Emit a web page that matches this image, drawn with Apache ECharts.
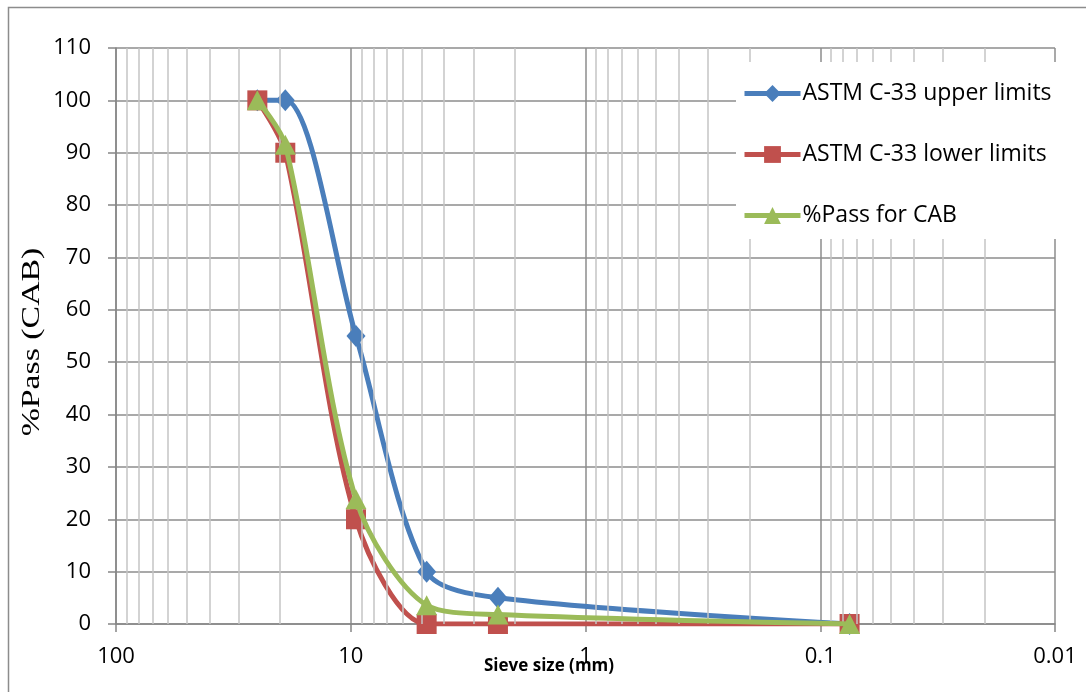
<!DOCTYPE html>
<html>
<head>
<meta charset="utf-8">
<script src="https://cdn.jsdelivr.net/npm/echarts@6/dist/echarts.min.js"></script>
<style>
html,body{margin:0;padding:0;background:#fff;}
#c{width:1086px;height:692px;}
</style>
</head>
<body>
<div id="c"></div>
<script>
// Sieve sizes (mm)
var sieveSizes = [25, 19, 9.5, 4.75, 2.36, 0.075];
var upperLimits = [100, 100, 55, 10, 5, 0];
var lowerLimits = [100, 90, 20, 0, 0, 0];
var passCAB = [100, 91.5, 23.8, 3.6, 1.8, 0];
var seriesNames = ['ASTM C-33 upper limits', 'ASTM C-33 lower limits', '%Pass for CAB'];
var yTicks = [0, 10, 20, 30, 40, 50, 60, 70, 80, 90, 100, 110];
var yTitle = '%Pass (CAB)';
var xTitle = 'Sieve size (mm)';
var minorGridValues = [];
[0.01, 0.1, 1, 10].forEach(function (d) {
  for (var k = 2; k <= 9; k++) minorGridValues.push(+(d * k).toPrecision(3));
});

function pairs(vals) {
  return sieveSizes.map(function (x, i) { return [x, vals[i]]; });
}

var chart = echarts.init(document.getElementById('c'), null, {renderer: 'canvas'});
var font = '"Open Sans", "DejaVu Sans", sans-serif';
var lw = 5;
var colors = ['#4a7ebb', '#c0504d', '#9bbb59'];

var option = {
  animation: false,
  backgroundColor: '#fff',
  grid: {left: 116, right: 31, top: 48, bottom: 68, containLabel: false},
  legend: {
    data: seriesNames.map(function (n, i) {
      return {name: n, lineStyle: {width: 5, color: colors[i]}};
    }),
    orient: 'vertical',
    left: 736, top: 62,
    width: 340,
    padding: [20, 8, 12, 6],
    itemGap: 38,
    itemWidth: 56,
    itemHeight: 21,
    backgroundColor: '#fff',
    textStyle: {fontFamily: font, fontSize: 23, color: '#000', padding: [0, 0, 0, -3]},
    z: 10
  },
  xAxis: {
    type: 'log',
    logBase: 10,
    min: 0.01,
    max: 100,
    inverse: true,
    axisLine: {show: true, lineStyle: {color: '#878787', width: 1.5}},
    axisTick: {show: true, inside: false, length: 8, lineStyle: {color: '#878787', width: 1.5}},
    axisLabel: {
      fontFamily: font, fontSize: 22, color: '#000', margin: 22,
      formatter: function (v) { return String(+v.toPrecision(3)); }
    },
    splitLine: {show: true, lineStyle: {color: '#8c8c8c', width: 1.5}},
    minorTick: {show: false},
    minorSplitLine: {show: false}
  },
  yAxis: {
    type: 'value',
    min: yTicks[0],
    max: yTicks[yTicks.length - 1],
    interval: 10,
    axisLine: {show: true, lineStyle: {color: '#878787', width: 1.5}},
    axisTick: {show: true, inside: false, length: 8, lineStyle: {color: '#878787', width: 1.5}},
    axisLabel: {fontFamily: font, fontSize: 22, color: '#000', margin: 25},
    splitLine: {show: true, lineStyle: {color: '#8c8c8c', width: 1.5}}
  },
  graphic: [
    {
      type: 'rect', z: -10, silent: true,
      shape: {x: 8.5, y: 7.5, width: 1100, height: 700},
      style: {fill: 'none', stroke: '#8c8c8c', lineWidth: 1.5}
    },
    {
      type: 'text', left: 484, top: 658, z: 5,
      style: {text: xTitle, fontFamily: font, fontWeight: 'bold', fontSize: 17, fill: '#000'}
    },
    {
      type: 'text', x: 32, y: 342, rotation: Math.PI / 2, scaleX: 1.3, z: 5,
      style: {
        text: yTitle, fontFamily: '"Liberation Serif", "DejaVu Serif", serif', fontSize: 26,
        fill: '#000', align: 'center', verticalAlign: 'middle'
      }
    }
  ],
  series: [
    {
      name: '_minorgrid', type: 'line', data: [], z: 0, silent: true,
      markLine: {
        silent: true, symbol: ['none', 'none'], animation: false,
        label: {show: false},
        lineStyle: {color: '#c4c4c4', width: 1.5, type: 'solid'},
        emphasis: {disabled: true},
        data: minorGridValues.map(function (v) { return {xAxis: v}; })
      }
    },
    {
      name: seriesNames[0], type: 'line', smooth: 0.3, z: 3,
      data: pairs(upperLimits),
      symbol: 'diamond', symbolSize: [19, 22],
      itemStyle: {color: colors[0]},
      lineStyle: {color: colors[0], width: lw}
    },
    {
      name: seriesNames[1], type: 'line', smooth: 0.3, z: 4,
      data: pairs(lowerLimits),
      symbol: 'rect', symbolSize: 20,
      itemStyle: {color: colors[1]},
      lineStyle: {color: colors[1], width: lw}
    },
    {
      name: seriesNames[2], type: 'line', smooth: 0.3, z: 5,
      data: pairs(passCAB),
      symbol: 'triangle', symbolSize: [21, 20],
      itemStyle: {color: colors[2]},
      lineStyle: {color: colors[2], width: lw}
    }
  ]
};
chart.setOption(option);
</script>
</body>
</html>
